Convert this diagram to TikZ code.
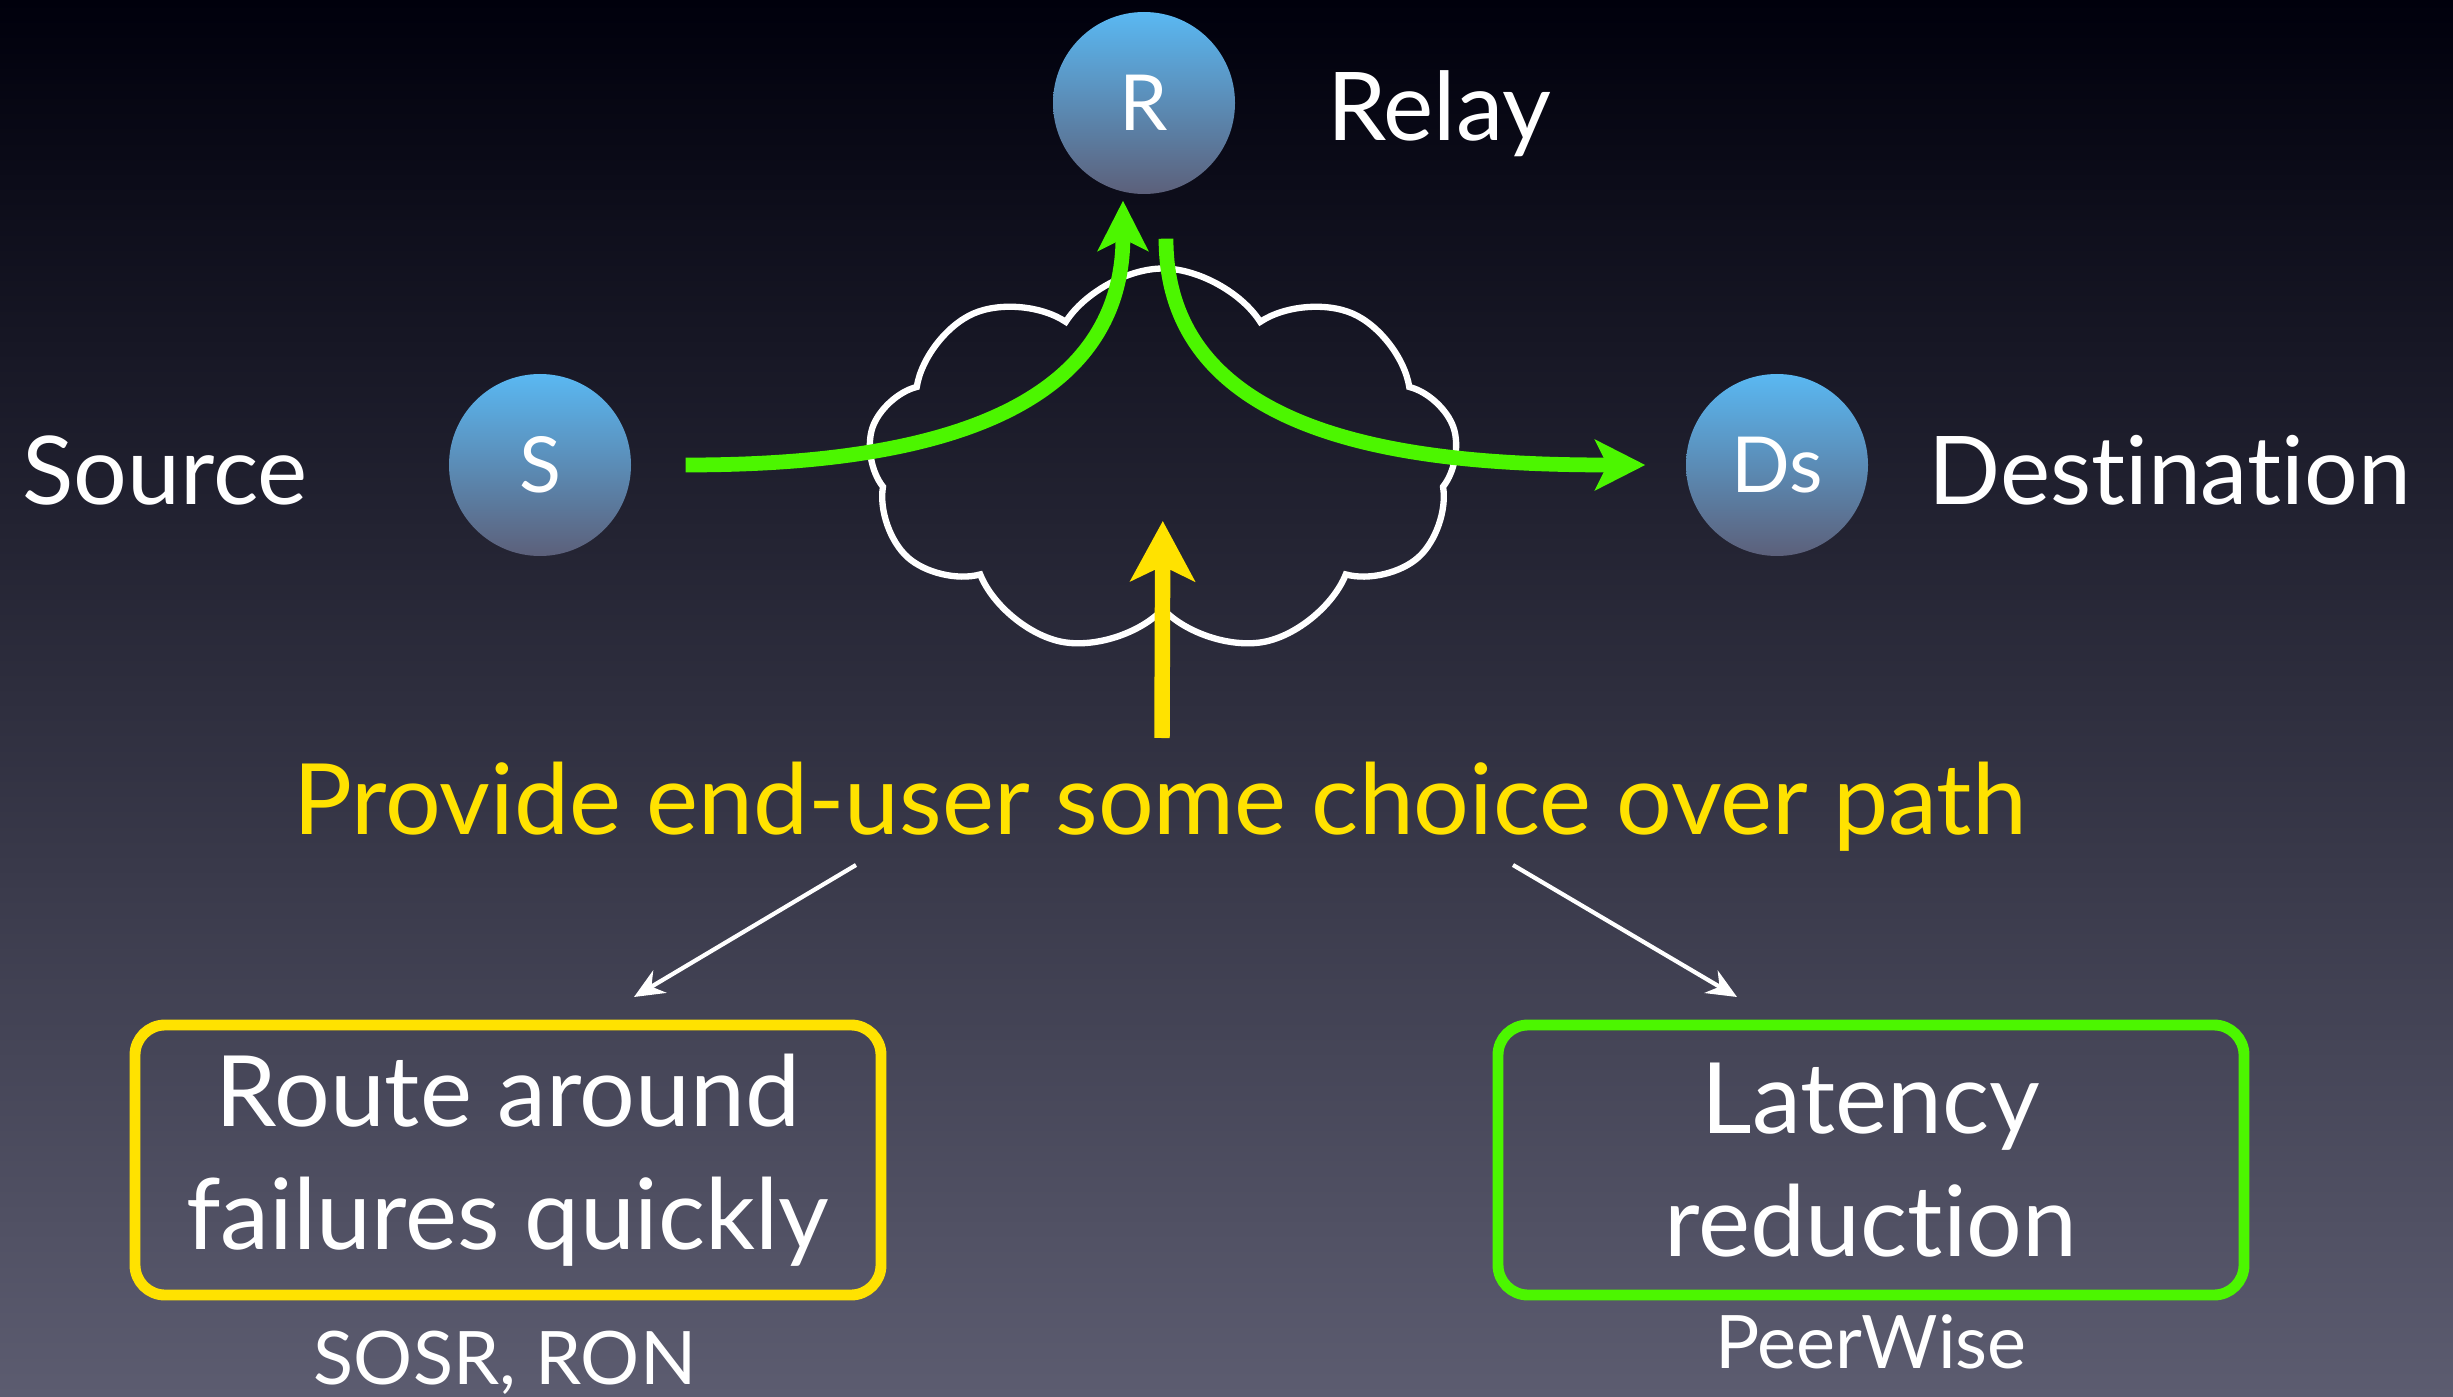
\documentclass[tikz,border=0pt]{standalone}
\usepackage{fontspec}
\setmainfont{Lato}[Ligatures=NoCommon]
\usepackage{tikz}
\usetikzlibrary{arrows.meta}
\usetikzlibrary{positioning}
\usetikzlibrary{shapes.symbols}
\definecolor{bgtop}{RGB}{0,0,12}
\definecolor{bgbot}{RGB}{92,92,112}
\definecolor{balltop}{RGB}{90,184,242}
\definecolor{ballbot}{RGB}{92,96,122}
\definecolor{pathgreen}{RGB}{76,246,0}
\definecolor{choiceyellow}{RGB}{255,226,0}
\tikzset{>=Stealth}
\tikzstyle{ball} = [circle, minimum size=1.82cm, inner sep=0pt, top color=balltop, bottom color=ballbot, text=white, font=\fontsize{22}{26}\selectfont]
\tikzstyle{lbl} = [text=white, font=\fontsize{27}{32}\selectfont]
\tikzstyle{gpath} = [-{Stealth[length=5mm, width=5mm, inset=1.2mm]}, line width=4.2pt, draw=pathgreen]
\tikzstyle{goal} = [rectangle, rounded corners=3mm, line width=3.1pt, minimum width=7.46cm, minimum height=2.70cm, align=center, text=white, font=\fontsize{28}{35}\selectfont]
\tikzstyle{cite} = [text=white, font=\fontsize{21}{25}\selectfont]

\begin{document}
\begin{tikzpicture}
\fill [top color=bgtop, bottom color=bgbot] (0, 0) rectangle (24.53, 13.96);
\useasboundingbox (0, 0) rectangle (24.53, 13.96);
% the three hosts
\node [ball] (R) at (11.44, 12.93) {R};
\node [ball] (S) at (5.40, 9.31) {S};
\node [ball] (D) at (17.77, 9.31) {Ds};
\node [lbl, anchor=base west] (relay) at (13.15, 12.55) {Relay};
\node [lbl, anchor=base west] (src) at (0.10, 8.92) {Source};
\node [lbl, anchor=base west] (dst) at (19.16, 8.92) {Destination};
% internet cloud
\node [cloud, cloud puffs=9, cloud puff arc=115, cloud ignores aspect, draw=white, line width=1.8pt, minimum width=5.9cm, minimum height=3.85cm] (net) at (11.63, 9.35) {};
\draw [gpath, shorten <=0.54cm, shorten >=0.06cm] (S.east) to [out=0, in=-90, looseness=1.1] ([xshift=-2.1mm]R.south);
\draw [gpath, shorten <=0.44cm, shorten >=0.4cm] ([xshift=2.2mm]R.south) to [out=-90, in=180, looseness=1.1] (D.west);
% the choice
\node [text=choiceyellow, font=\fontsize{28}{33}\selectfont] (prov) at (11.60, 5.89) {Provide end-user some choice over path};
\coordinate (ybase) at (11.62, 6.58);
\draw [-{Stealth[length=6mm, width=6.4mm, inset=1.5mm]}, line width=4.4pt, draw=choiceyellow, shorten >=0.6cm] (ybase) -- (net.center);
\node [goal, draw=choiceyellow] (route) at (5.08, 2.36) {Route around\\failures quickly};
\node [goal, draw=pathgreen] (lat) at (18.71, 2.36) {Latency\\reduction};
\node [cite] (sosr) at (5.05, 0.33) {SOSR, RON};
\node [cite] (pw) at (18.71, 0.54) {PeerWise};
\coordinate (la) at (8.56, 5.31);
\coordinate (lb) at (6.34, 3.99);
\coordinate (ra) at (15.13, 5.31);
\coordinate (rb) at (17.37, 3.99);
\draw [-{Stealth[length=3mm, width=2.6mm]}, draw=white, line width=1.2pt] (la) -- (lb);
\draw [-{Stealth[length=3mm, width=2.6mm]}, draw=white, line width=1.2pt] (ra) -- (rb);
\end{tikzpicture}
\end{document}
